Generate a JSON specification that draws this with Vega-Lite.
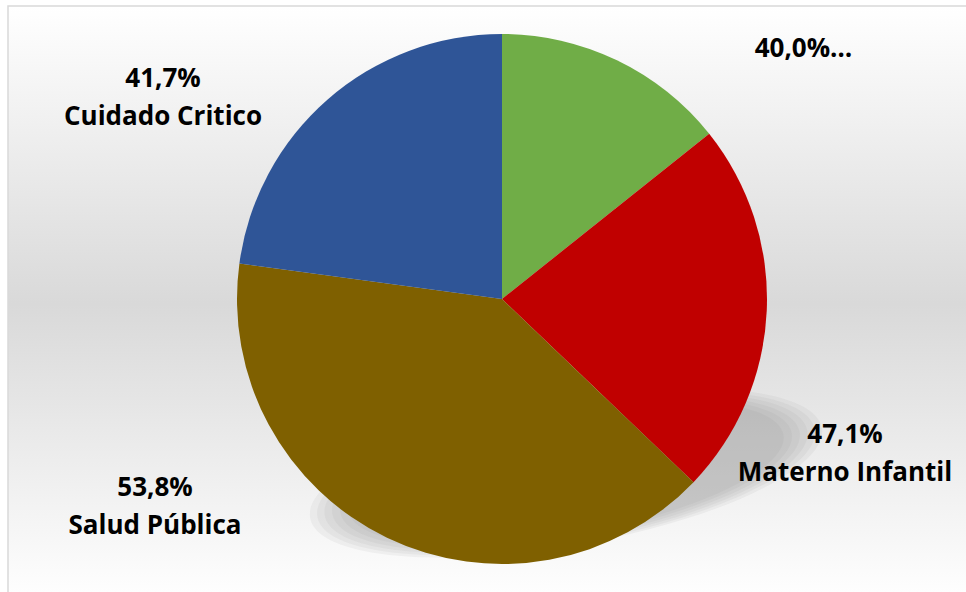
{
  "$schema": "https://vega.github.io/schema/vega-lite/v6.json",
  "width": 966,
  "height": 592,
  "autosize": {"type": "fit", "contains": "padding"},
  "padding": 0,
  "background": "#ffffff",
  "config": {
    "view": {"stroke": null},
    "point": {"filled": true, "color": "#7f7f7f", "strokeWidth": 0, "opacity": 0.08, "shape": "M -1 0 A 1 0.28 0 1 0 1 0 A 1 0.28 0 1 0 -1 0 Z", "angle": -10, "x": {"expr": "width/2+83"}, "y": {"expr": "height/2+177"}},
    "text": {"font": "Open Sans", "fontWeight": "bold", "fontSize": 26, "color": "#000000", "align": "center", "baseline": "alphabetic", "lineBreak": "\n", "lineHeight": 38}
  },
  "data": {
    "values": [
      {"categoria": "Otros", "valor": 5, "orden": 1, "etiqueta": "40,0%…"},
      {"categoria": "Materno Infantil", "valor": 8, "orden": 2, "etiqueta": "47,1%\nMaterno Infantil"},
      {"categoria": "Salud Pública", "valor": 14, "orden": 3, "etiqueta": "53,8%\nSalud Pública"},
      {"categoria": "Cuidado Critico", "valor": 8, "orden": 4, "etiqueta": "41,7%\nCuidado Critico"}
    ]
  },
  "layer": [
    {
      "data": {"values": [{"fondo": 1}]},
      "mark": {
        "type": "rect", "x": 8, "y": 6, "x2": {"expr": "width+10"}, "y2": {"expr": "height+10"},
        "clip": true,
        "stroke": "#d9d9d9", "strokeWidth": 1.5,
        "color": {
          "gradient": "linear", "x1": 0, "y1": 0, "x2": 0, "y2": 1,
          "stops": [
            {"offset": 0, "color": "#ffffff"},
            {"offset": 0.5, "color": "#d9d9d9"},
            {"offset": 1, "color": "#ffffff"}
          ]
        }
      },
      "encoding": {}
    },
    {"data": {"values": [{"sombra": 1}]}, "mark": {"type": "point", "size": 270000}, "encoding": {}},
    {"data": {"values": [{"sombra": 1}]}, "mark": {"type": "point", "size": 255000}, "encoding": {}},
    {"data": {"values": [{"sombra": 1}]}, "mark": {"type": "point", "size": 240000}, "encoding": {}},
    {"data": {"values": [{"sombra": 1}]}, "mark": {"type": "point", "size": 225000}, "encoding": {}},
    {"data": {"values": [{"sombra": 1}]}, "mark": {"type": "point", "size": 210000}, "encoding": {}},
    {"data": {"values": [{"sombra": 1}]}, "mark": {"type": "point", "size": 195000}, "encoding": {}},
    {
      "mark": {"type": "arc", "outerRadius": 265, "x": {"expr": "width/2+19"}, "y": {"expr": "height/2+3"}},
      "encoding": {
        "theta": {"field": "valor", "type": "quantitative", "stack": true},
        "order": {"field": "orden", "type": "quantitative"},
        "color": {
          "field": "categoria", "type": "nominal", "legend": null,
          "scale": {
            "domain": ["Otros", "Materno Infantil", "Salud Pública", "Cuidado Critico"],
            "range": ["#70ad47", "#c00000", "#7f6000", "#2f5597"]
          }
        }
      }
    },
    {
      "transform": [{"filter": "datum.categoria === 'Otros'"}],
      "mark": {"type": "text", "x": {"expr": "width/2+19"}, "y": {"expr": "height/2+3"}, "dx": 301.5, "dy": -242},
      "encoding": {"text": {"field": "etiqueta"}}
    },
    {
      "transform": [{"filter": "datum.categoria === 'Materno Infantil'"}],
      "mark": {"type": "text", "x": {"expr": "width/2+19"}, "y": {"expr": "height/2+3"}, "dx": 343, "dy": 144},
      "encoding": {"text": {"field": "etiqueta"}}
    },
    {
      "transform": [{"filter": "datum.categoria === 'Salud Pública'"}],
      "mark": {"type": "text", "x": {"expr": "width/2+19"}, "y": {"expr": "height/2+3"}, "dx": -347, "dy": 197},
      "encoding": {"text": {"field": "etiqueta"}}
    },
    {
      "transform": [{"filter": "datum.categoria === 'Cuidado Critico'"}],
      "mark": {"type": "text", "x": {"expr": "width/2+19"}, "y": {"expr": "height/2+3"}, "dx": -339, "dy": -212},
      "encoding": {"text": {"field": "etiqueta"}}
    }
  ]
}
